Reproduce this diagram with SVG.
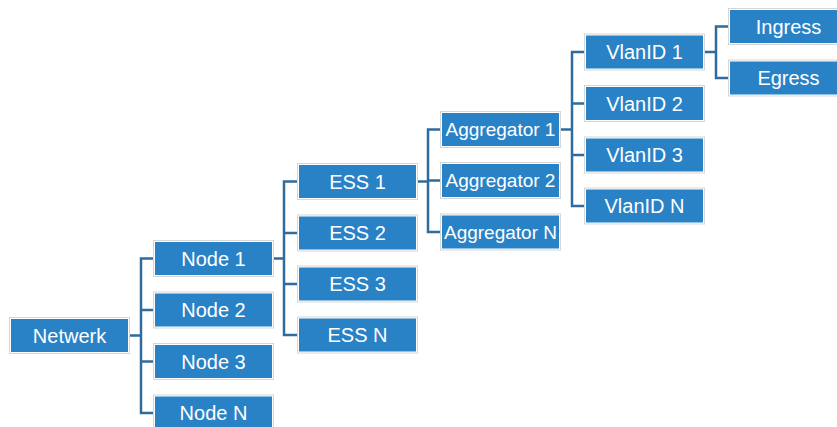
<svg xmlns="http://www.w3.org/2000/svg" width="837" height="427" viewBox="0 0 837 427">
  <style>
    .frame { fill: #ffffff; stroke: #d6d6d6; stroke-width: 1; }
    .fill { fill: #2a82c6; }
    .label { fill: #ffffff; font-family: "Liberation Sans", Arial, sans-serif; font-size: 20px; text-anchor: middle; }
    .label.long { font-size: 19px; }
    .link { fill: none; stroke: #2f6c9d; stroke-width: 2.5; stroke-linejoin: miter; }
  </style>
  <defs>
    <g id="box">
      <rect class="frame" x="0.5" y="0.5" width="120" height="36"/>
      <rect class="fill" x="2" y="2" width="117" height="33"/>
    </g>
  </defs>

  <!-- connectors: parent -> bus -> children -->
  <g id="connectors">
    <!-- Netwerk to nodes -->
    <path class="link" d="M130 335.5 H141 M153 258.5 H141 V413 H153 M141 310 H153 M141 361.5 H153"/>
    <!-- Node 1 to ESS -->
    <path class="link" d="M274 258.5 H284 M297 181.5 H284 V335 H297 M284 233 H297 M284 284 H297"/>
    <!-- ESS 1 to aggregators -->
    <path class="link" d="M418 181.5 H428 M440 129.5 H428 V232 H440 M428 180.5 H440"/>
    <!-- Aggregator 1 to VLANs -->
    <path class="link" d="M561 129.5 H572 M584 52 H572 V206 H584 M572 103.5 H584 M572 155 H584"/>
    <!-- VlanID 1 to directions -->
    <path class="link" d="M705 52 H716 M728 26.5 H716 V78 H728"/>
  </g>

  <g id="netwerk"><use href="#box" x="9" y="317"/><text class="label" x="69.5" y="342.5">Netwerk</text></g>

  <g id="node1"><use href="#box" x="153" y="240"/><text class="label" x="213.5" y="265.5">Node 1</text></g>
  <g id="node2"><use href="#box" x="153" y="291.5"/><text class="label" x="213.5" y="317">Node 2</text></g>
  <g id="node3"><use href="#box" x="153" y="343"/><text class="label" x="213.5" y="368.5">Node 3</text></g>
  <g id="nodeN"><use href="#box" x="153" y="394.5"/><text class="label" x="213.5" y="420">Node N</text></g>

  <g id="ess1"><use href="#box" x="297" y="163"/><text class="label" x="357.5" y="188.5">ESS 1</text></g>
  <g id="ess2"><use href="#box" x="297" y="214.5"/><text class="label" x="357.5" y="240">ESS 2</text></g>
  <g id="ess3"><use href="#box" x="297" y="265.5"/><text class="label" x="357.5" y="291">ESS 3</text></g>
  <g id="essN"><use href="#box" x="297" y="316.5"/><text class="label" x="357.5" y="342">ESS N</text></g>

  <g id="agg1"><use href="#box" x="440" y="111"/><text class="label long" x="500.5" y="136">Aggregator 1</text></g>
  <g id="agg2"><use href="#box" x="440" y="162"/><text class="label long" x="500.5" y="187">Aggregator 2</text></g>
  <g id="aggN"><use href="#box" x="440" y="213.5"/><text class="label long" x="500.5" y="238.5">Aggregator N</text></g>

  <g id="vlan1"><use href="#box" x="584" y="33.5"/><text class="label" x="644.5" y="59">VlanID 1</text></g>
  <g id="vlan2"><use href="#box" x="584" y="85"/><text class="label" x="644.5" y="110.5">VlanID 2</text></g>
  <g id="vlan3"><use href="#box" x="584" y="136.5"/><text class="label" x="644.5" y="162">VlanID 3</text></g>
  <g id="vlanN"><use href="#box" x="584" y="187.5"/><text class="label" x="644.5" y="213">VlanID N</text></g>

  <g id="ingress"><use href="#box" x="728" y="8"/><text class="label" x="788.5" y="33.5">Ingress</text></g>
  <g id="egress"><use href="#box" x="728" y="59.5"/><text class="label" x="788.5" y="85">Egress</text></g>
</svg>
